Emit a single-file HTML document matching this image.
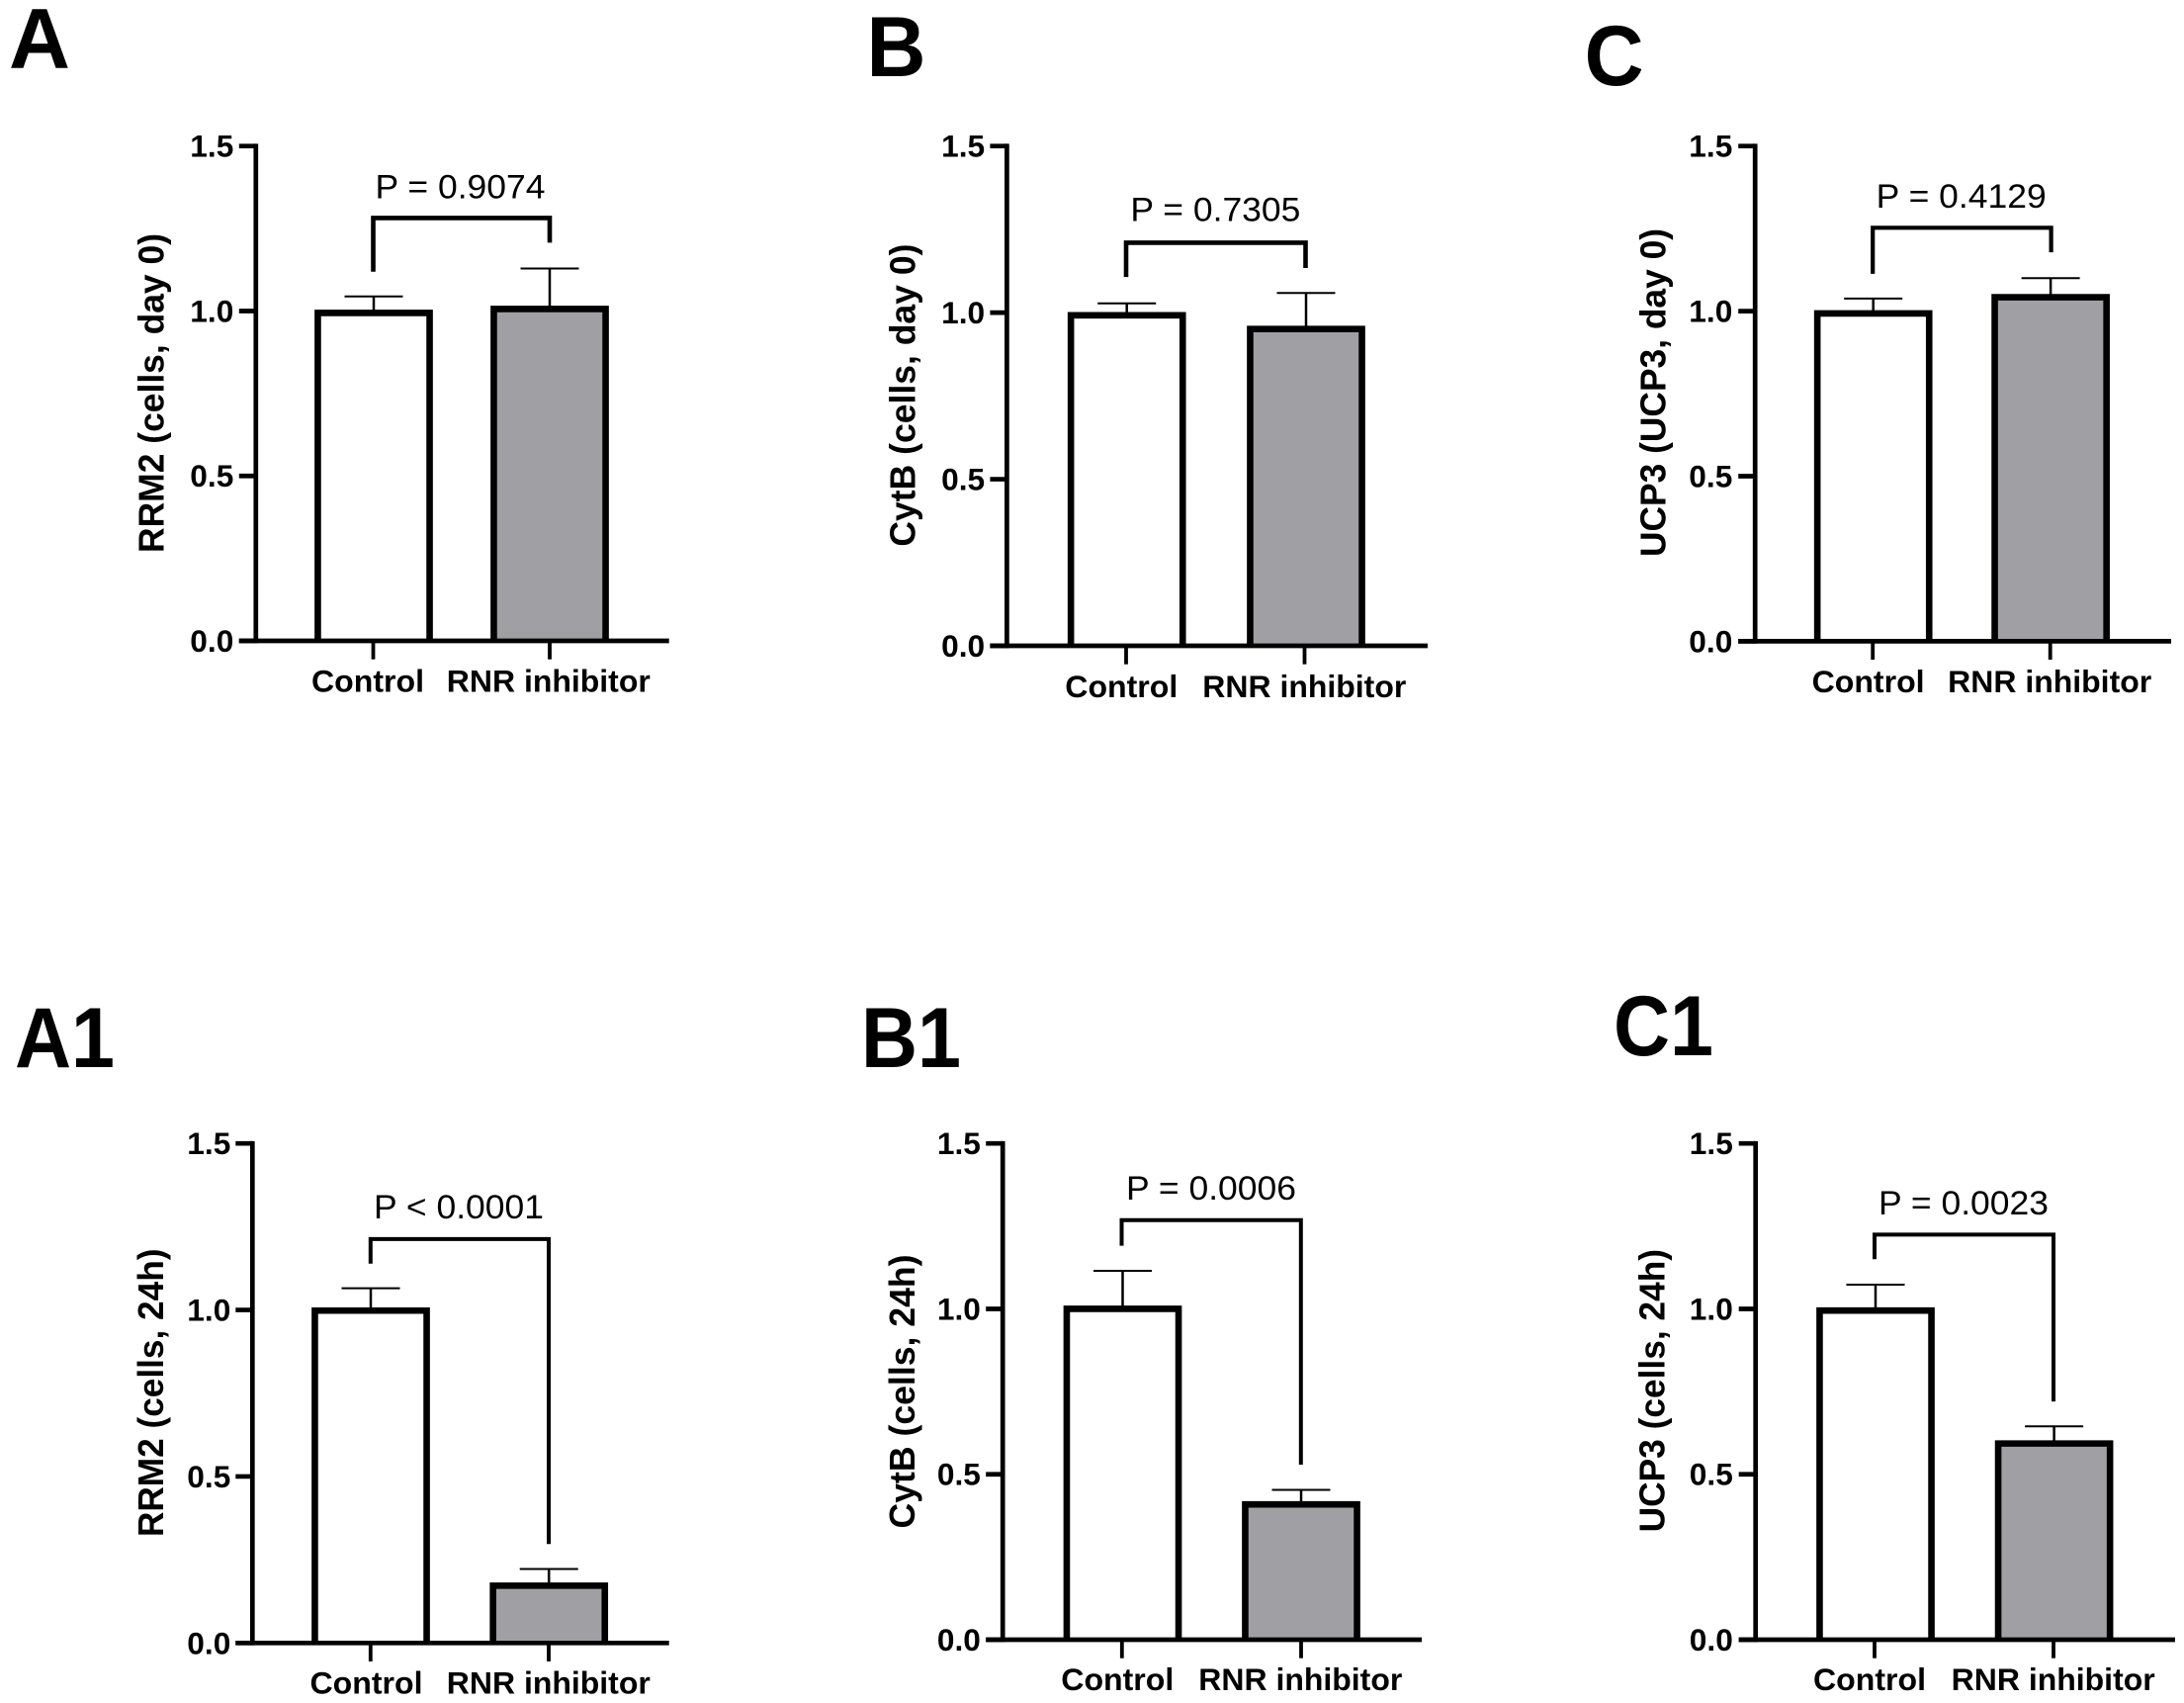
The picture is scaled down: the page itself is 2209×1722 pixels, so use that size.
<!DOCTYPE html>
<html lang="en">
<head>
<meta charset="utf-8">
<title>RRM2, CytB and UCP3 expression: Control vs RNR inhibitor</title>
<style>
  html, body { margin: 0; padding: 0; background: #fff; }
  #figure { display: block; width: 2209px; height: 1722px; }
  text { font-family: "Liberation Sans", Arial, sans-serif; fill: #000; }
</style>
</head>
<body>
<svg id="figure" xmlns="http://www.w3.org/2000/svg" width="2209" height="1722" viewBox="0 0 2209 1722"></svg>
<script>
// ---- data ----
const panelIds = ['A', 'B', 'C', 'A1', 'B1', 'C1'];
const categories = ['Control', 'RNR inhibitor'];
const yTickValues = [0, 0.5, 1, 1.5];
const yTickLabels = ['0.0', '0.5', '1.0', '1.5'];
const yTitles = ['RRM2 (cells, day 0)', 'CytB (cells, day 0)', 'UCP3 (UCP3, day 0)', 'RRM2 (cells, 24h)', 'CytB (cells, 24h)', 'UCP3 (cells, 24h)'];
const pLabels = ['P = 0.9074', 'P = 0.7305', 'P = 0.4129', 'P < 0.0001', 'P = 0.0006', 'P = 0.0023'];
const controlMeans = [0.994, 0.992, 0.993, 0.998, 1.000, 0.995];
const inhibitorMeans = [1.006, 0.951, 1.042, 0.172, 0.409, 0.593];
const controlUpper = [1.044, 1.028, 1.038, 1.065, 1.115, 1.073];
const inhibitorUpper = [1.129, 1.059, 1.100, 0.222, 0.453, 0.645];
const bracketTops = [1.282, 1.210, 1.2525, 1.213, 1.268, 1.2246];
const bracketLeftEnds = [1.119, 1.107, 1.113, 1.139, 1.191, 1.150];
const bracketRightEnds = [1.207, 1.134, 1.178, 0.297, 0.529, 0.720];

// ---- layout of each panel (axis frames and label placement) ----
const layouts = {
  A:  { axisX: 258.8, y0: 648.0, y15: 147.7, xEnd: 676.7, c1: 378.0, c2: 556.0, tick1: 377.5, tick2: 556.0, brL: 377.5, brR: 556.0, brW: 4.6, pX: 465.5, pGap: 19.8, lab1: 372.0, lab2: 554.8, labY: 699.5, titleX: 165.5, titleY: 397.5, titleW: 323, letter: 'A', letterX: 9.0, letterY: 68.4, letterW: 62, labelRight: 236.3 },
  B:  { axisX: 1018.4, y0: 653.0, y15: 147.7, xEnd: 1444.0, c1: 1139.7, c2: 1321.0, tick1: 1139.0, tick2: 1319.5, brL: 1139.0, brR: 1320.5, brW: 4.6, pX: 1229.4, pGap: 21.7, lab1: 1134.3, lab2: 1319.3, labY: 705.0, titleX: 925.5, titleY: 399.6, titleW: 306, letter: 'B', letterX: 876.5, letterY: 77.0, letterW: 60, labelRight: 996.1 },
  C:  { axisX: 1775.2, y0: 648.4, y15: 147.7, xEnd: 2196.0, c1: 1894.7, c2: 2074.1, tick1: 1894.2, tick2: 2073.7, brL: 1894.2, brR: 2074.6, brW: 4.2, pX: 1983.7, pGap: 20.3, lab1: 1889.6, lab2: 2073.2, labY: 700.0, titleX: 1684.6, titleY: 397.0, titleW: 332, letter: 'C', letterX: 1602.6, letterY: 86.0, letterW: 60, labelRight: 1752.3 },
  A1: { axisX: 255.3, y0: 1661.3, y15: 1156.2, xEnd: 676.7, c1: 375.0, c2: 555.2, tick1: 374.8, tick2: 555.0, brL: 374.8, brR: 555.0, brW: 4.0, pX: 464.0, pGap: 21.0, lab1: 370.5, lab2: 554.8, labY: 1712.3, titleX: 165.0, titleY: 1408.3, titleW: 291.5, letter: 'A1', letterX: 15.0, letterY: 1079.0, letterW: 101, labelRight: 233.3 },
  B1: { axisX: 1014.2, y0: 1658.0, y15: 1156.2, xEnd: 1438.0, c1: 1135.5, c2: 1316.0, tick1: 1134.8, tick2: 1316.0, brL: 1134.5, brR: 1315.8, brW: 4.0, pX: 1225.0, pGap: 21.0, lab1: 1130.3, lab2: 1315.3, labY: 1709.0, titleX: 925.0, titleY: 1407.0, titleW: 277, letter: 'B1', letterX: 871.0, letterY: 1079.0, letterW: 101, labelRight: 991.9 },
  C1: { axisX: 1775.7, y0: 1658.0, y15: 1156.2, xEnd: 2200.0, c1: 1897.0, c2: 2077.6, tick1: 1896.0, tick2: 2077.0, brL: 1896.0, brR: 2077.0, brW: 4.0, pX: 1986.0, pGap: 20.5, lab1: 1891.0, lab2: 2076.7, labY: 1709.0, titleX: 1683.6, titleY: 1406.2, titleW: 286.4, letter: 'C1', letterX: 1632.0, letterY: 1067.0, letterW: 101, labelRight: 1752.8 }
};

const yMax = 1.5;
const barOuterWidth = 119.7;
const barStroke = 6.6;
const axisStroke = 4.7;
const capHalf = 29.5;
const greyFill = '#a0a0a4';
const svgNS = 'http://www.w3.org/2000/svg';
const figure = document.getElementById('figure');

function shape(parent, tag, props) {
  const node = document.createElementNS(svgNS, tag);
  Object.keys(props).forEach(function (k) { node.setAttribute(k, props[k]); });
  parent.appendChild(node);
  return node;
}

function label(parent, content, x, y, size, weight, anchor, width) {
  const node = shape(parent, 'text', { x: x, y: y, 'font-size': size, 'font-weight': weight, 'text-anchor': anchor });
  if (width) {
    node.setAttribute('textLength', width);
    node.setAttribute('lengthAdjust', 'spacingAndGlyphs');
  }
  node.textContent = content;
  return node;
}

function line(parent, x1, y1, x2, y2, w) {
  return shape(parent, 'line', { x1: x1, y1: y1, x2: x2, y2: y2, stroke: '#000', 'stroke-width': w });
}

// open three-sided outline: the x-axis line closes the bottom of each bar
function barPath(center, top, bottom) {
  const half = (barOuterWidth - barStroke) / 2;
  return 'M' + (center - half) + ' ' + bottom + ' V' + top + ' H' + (center + half) + ' V' + bottom;
}

panelIds.forEach(function (id, i) {
  const L = layouts[id];
  const yScale = function (v) { return L.y0 - (v / yMax) * (L.y0 - L.y15); };

  const panel = shape(figure, 'g', {});
  
  

  const letter = label(panel, L.letter, L.letterX, L.letterY, 86, 700, 'start', L.letterW);
  
  

  // error bars sit behind the bars
  const errControlStem = line(panel, L.c1, yScale(controlMeans[i]), L.c1, yScale(controlUpper[i]), 2.5);
  
  
  const errControlCap = line(panel, L.c1 - capHalf, yScale(controlUpper[i]), L.c1 + capHalf, yScale(controlUpper[i]), 2);
  
  
  const errInhibitorStem = line(panel, L.c2, yScale(inhibitorMeans[i]), L.c2, yScale(inhibitorUpper[i]), 2.5);
  
  
  const errInhibitorCap = line(panel, L.c2 - capHalf, yScale(inhibitorUpper[i]), L.c2 + capHalf, yScale(inhibitorUpper[i]), 2);
  
  

  // bars
  const barControl = shape(panel, 'path', {
    d: barPath(L.c1, yScale(controlMeans[i]), L.y0),
    fill: '#fff', stroke: '#000', 'stroke-width': barStroke, 'stroke-linejoin': 'miter'
  });
  
  
  const barInhibitor = shape(panel, 'path', {
    d: barPath(L.c2, yScale(inhibitorMeans[i]), L.y0),
    fill: greyFill, stroke: '#000', 'stroke-width': barStroke, 'stroke-linejoin': 'miter'
  });
  
  

  // axes
  const yAxis = line(panel, L.axisX, L.y15 - axisStroke / 2, L.axisX, L.y0 + axisStroke / 2, axisStroke);
  
  
  const xAxis = line(panel, L.axisX - 17, L.y0, L.xEnd, L.y0, axisStroke);
  
  

  yTickValues.forEach(function (v, t) {
    const tick = line(panel, L.axisX - 17, yScale(v), L.axisX, yScale(v), axisStroke);
    
    
    const tickLabel = label(panel, yTickLabels[t], L.labelRight, yScale(v) + 11, 31.5, 700, 'end', 44);
    
    
  });

  const xTick1 = line(panel, L.tick1, L.y0, L.tick1, L.y0 + 18.7, 3.8);
  
  
  const xTick2 = line(panel, L.tick2, L.y0, L.tick2, L.y0 + 18.7, 3.8);
  
  

  const xLabel1 = label(panel, categories[0], L.lab1, L.labY, 31.5, 700, 'middle', 114);
  
  
  const xLabel2 = label(panel, categories[1], L.lab2, L.labY, 31.5, 700, 'middle', 206);
  
  

  // rotated y-axis title
  const yTitle = label(panel, yTitles[i], 0, 0, 36.5, 700, 'middle', L.titleW);
  yTitle.setAttribute('transform', 'translate(' + L.titleX + ' ' + L.titleY + ') rotate(-90)');
  
  

  // significance bracket
  const topY = yScale(bracketTops[i]);
  const bracket = shape(panel, 'path', {
    d: 'M' + L.brL + ' ' + yScale(bracketLeftEnds[i]) + ' V' + topY + ' H' + L.brR + ' V' + yScale(bracketRightEnds[i]),
    fill: 'none', stroke: '#000', 'stroke-width': L.brW, 'stroke-linejoin': 'miter'
  });
  
  

  const pText = label(panel, pLabels[i], L.pX, topY - L.pGap, 34, 400, 'middle', 172);
  
  
});
</script>
</body>
</html>
